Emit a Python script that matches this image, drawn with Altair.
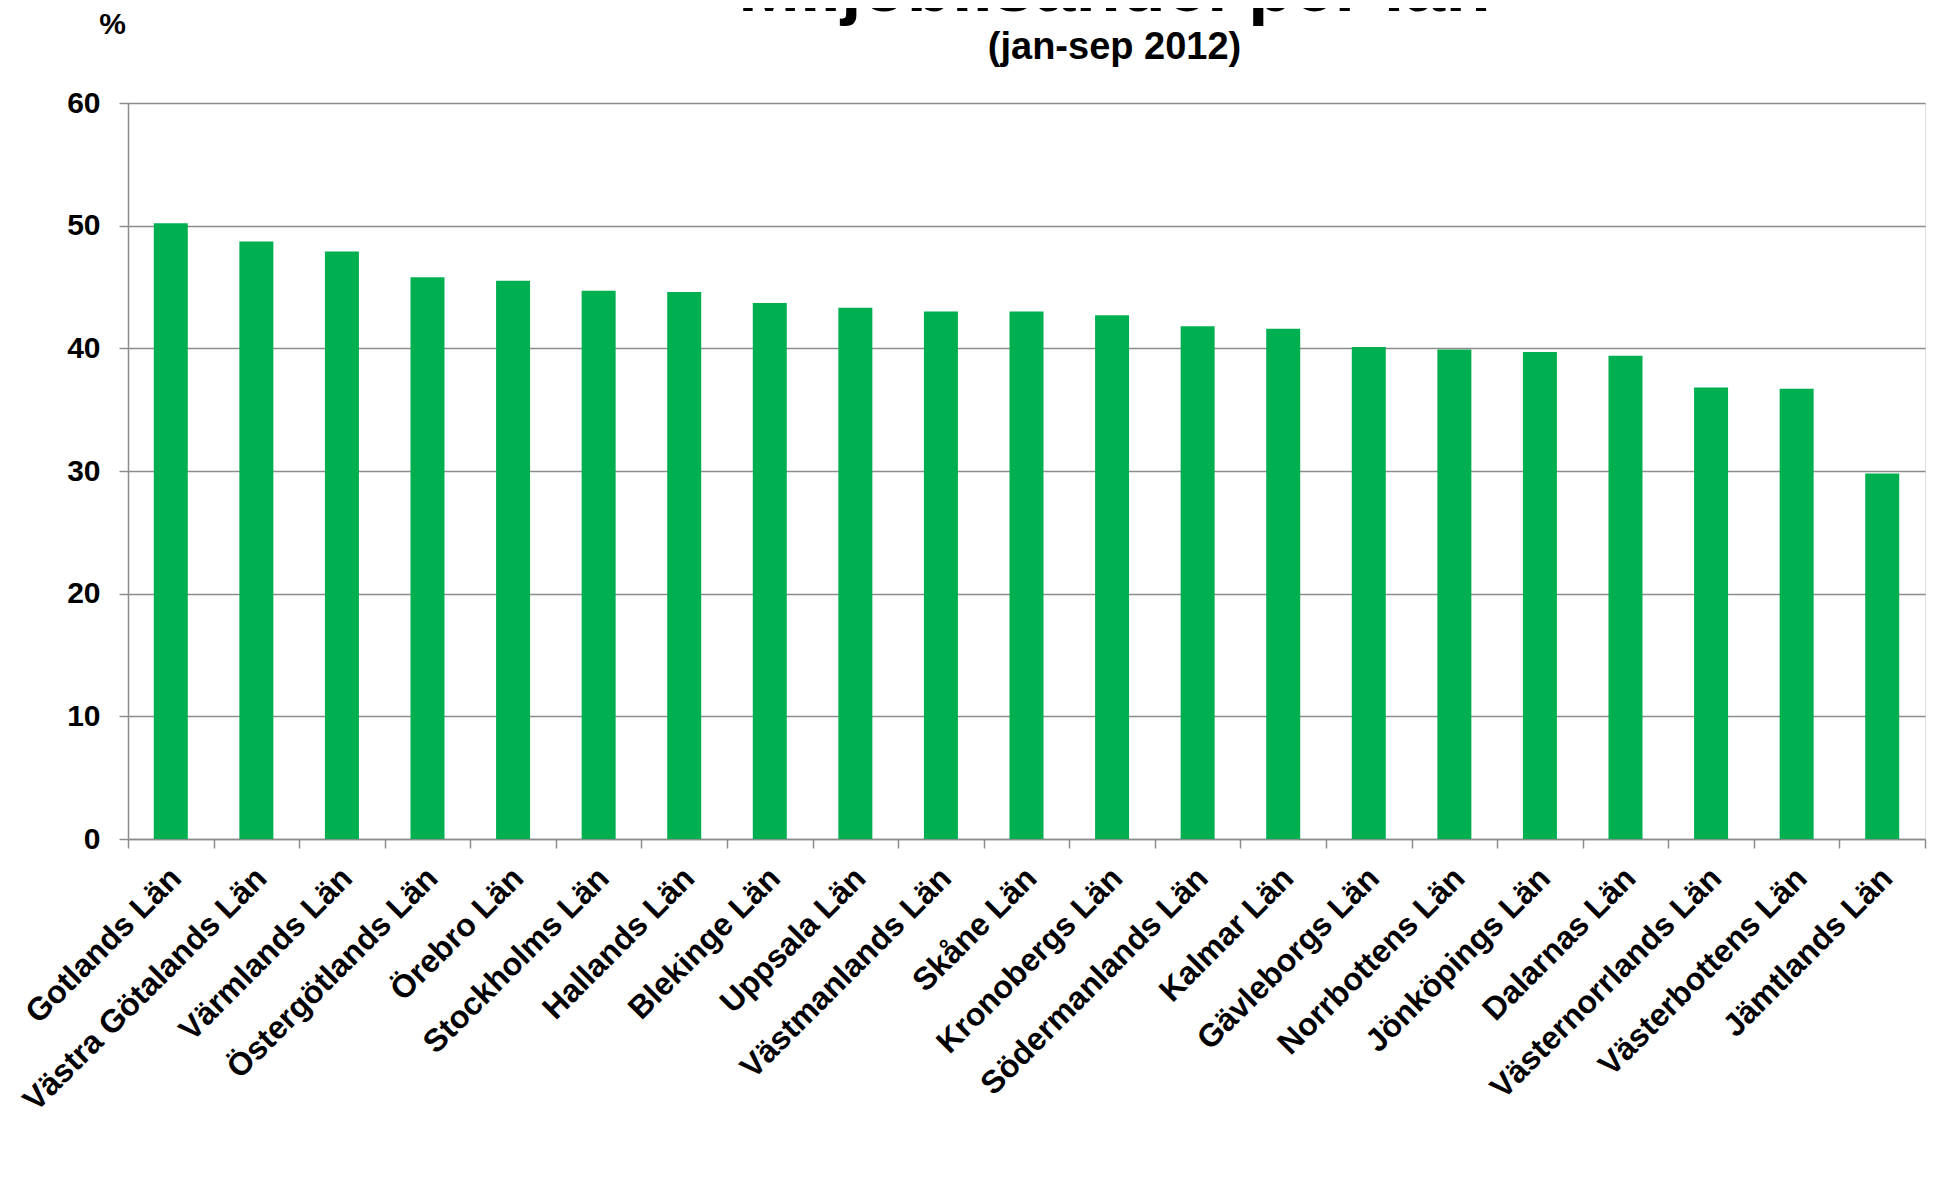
import altair as alt
import pandas as pd

lan = ["Gotlands Län", "Västra Götalands Län", "Värmlands Län", "Östergötlands Län",
       "Örebro Län", "Stockholms Län", "Hallands Län", "Blekinge Län", "Uppsala Län",
       "Västmanlands Län", "Skåne Län", "Kronobergs Län", "Södermanlands Län",
       "Kalmar Län", "Gävleborgs Län", "Norrbottens Län", "Jönköpings Län",
       "Dalarnas Län", "Västernorrlands Län", "Västerbottens Län", "Jämtlands Län"]
andel = [50.2, 48.7, 47.9, 45.8, 45.5, 44.7, 44.6, 43.7, 43.3, 43.0, 43.0, 42.7,
         41.8, 41.6, 40.1, 39.9, 39.7, 39.4, 36.8, 36.7, 29.8]
y_ticks = [0, 10, 20, 30, 40, 50, 60]

df = pd.DataFrame({"lan": lan, "andel": andel})
FONT = "Liberation Sans"

chart = alt.Chart(df).mark_bar(size=34, color="#00B050").encode(
    x=alt.X("lan:N", sort=lan, title=None,
            scale=alt.Scale(paddingInner=0, paddingOuter=0),
            axis=alt.Axis(labelAngle=-45, labelAlign="right", labelBaseline="top",
                          labelFontSize=32, labelFont=FONT, labelFontWeight="bold",
                          labelColor="black", labelPadding=14, labelOffset=-6,
                          labelLimit=0,
                          tickBand="extent", tickSize=9, tickColor="#8c8c8c",
                          tickWidth=1.5, domainColor="#8c8c8c", domainWidth=1.5,
                          grid=False, labelOverlap=False)),
    y=alt.Y("andel:Q", title="%",
            scale=alt.Scale(domain=[0, 60], nice=False),
            axis=alt.Axis(values=y_ticks, labelFontSize=30, labelFont=FONT,
                          labelFontWeight="bold", labelColor="black", labelPadding=19,
                          tickSize=9, tickColor="#8c8c8c", tickWidth=1.5,
                          domainColor="#8c8c8c", domainWidth=1.5,
                          gridColor="#8c8c8c", gridWidth=1.4,
                          titleAngle=0, titleX=-16, titleY=-70, titleAlign="center",
                          titleBaseline="alphabetic", titleFontSize=30, titleFont=FONT,
                          titleFontWeight="bold", titleColor="black")),
).properties(
    width=1797,
    height=736,
    title=alt.TitleParams(
        text="Miljöbilsandel per län",
        subtitle="(jan-sep 2012)",
        fontSize=74, font=FONT, fontWeight="bold", color="black",
        subtitleFontSize=38, subtitleFont=FONT, subtitleFontWeight="bold",
        subtitleColor="black",
        anchor="middle", frame="group", dx=88, dy=92, offset=33, subtitlePadding=2,
    ),
    autosize=alt.AutoSizeParams(type="none"),
    padding={"left": 120, "top": 95, "right": 26, "bottom": 345},
).configure_view(stroke=None).configure(background="white")

chart.save("out.html", embed_options={"renderer": "svg", "actions": False})
